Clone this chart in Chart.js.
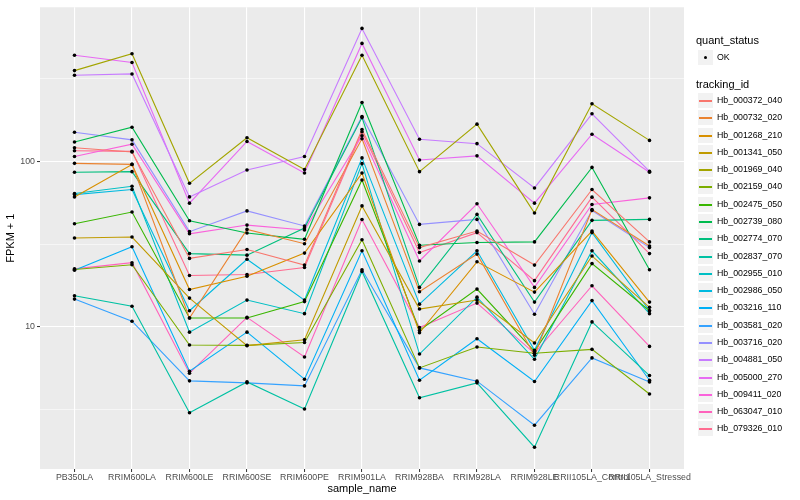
<!DOCTYPE html>
<html>
<head>
<meta charset="utf-8">
<script src="https://cdn.jsdelivr.net/npm/chart.js@4.4.1/dist/chart.umd.min.js"></script>
<style>
  html, body { margin: 0; padding: 0; background: #fff; }
  #wrap { position: relative; width: 800px; height: 500px; font-family: 'Liberation Sans', Arial, sans-serif; }
  #chart { position: absolute; left: 0; top: 0; }
  .lg-title { position: absolute; left: 696px; font-size: 11px; line-height: 13px; color: #000; white-space: nowrap; }
  .lg-key { position: absolute; left: 697px; width: 17px; height: 17px; background: #f2f2f2; box-sizing: border-box; border: 1px solid #fff; }
  .lg-line { position: absolute; left: 1px; width: 13px; top: 6.5px; height: 2px; }
  .lg-dot { position: absolute; left: 6px; top: 6px; width: 3px; height: 3px; border-radius: 50%; background: #000; }
  .lg-text { position: absolute; left: 717px; font-size: 8.8px; line-height: 17px; color: #000; white-space: nowrap; }
</style>
</head>
<body>
<div id="wrap">
  <canvas id="chart" width="800" height="500"></canvas>
  <div id="legend"></div>
</div>
<script>
// Samples on the x axis
const sampleNames = ["PB350LA", "RRIM600LA", "RRIM600LE", "RRIM600SE", "RRIM600PE", "RRIM901LA",
  "RRIM928BA", "RRIM928LA", "RRIM928LE", "RRII105LA_Control", "RRII105LA_Stressed"];

const trackingIds = ["Hb_000372_040", "Hb_000732_020", "Hb_001268_210", "Hb_001341_050", "Hb_001969_040",
  "Hb_002159_040", "Hb_002475_050", "Hb_002739_080", "Hb_002774_070", "Hb_002837_070",
  "Hb_002955_010", "Hb_002986_050", "Hb_003216_110", "Hb_003581_020", "Hb_003716_020",
  "Hb_004881_050", "Hb_005000_270", "Hb_009411_020", "Hb_063047_010", "Hb_079326_010"];

// ggplot default hue palette, 20 levels
const lineColors = ["#F8766D", "#EA8331", "#D89000", "#C09B00", "#A3A500", "#7CAE00", "#39B600", "#00BB4E",
  "#00BF7D", "#00C1A3", "#00BFC4", "#00BAE0", "#00B0F6", "#35A2FF", "#9590FF", "#C77CFF",
  "#E76BF3", "#FA62DB", "#FF62BC", "#FF6C91"];

// FPKM + 1, one value per sample
const hb000372_040 = [121, 114, 25.9, 29.3, 23.6, 156, 30.1, 37.9, 23.6, 67.6, 32.6];
const hb000732_020 = [97.3, 95.9, 11.3, 38.8, 31.8, 137, 16.3, 27.5, 6.72, 51.2, 30.8];
const hb001268_210 = [61.0, 95.9, 16.8, 20.2, 27.9, 85.0, 9.2, 24.7, 16.2, 37.9, 14.1];
const hb001341_050 = [34.4, 34.9, 14.9, 7.69, 8.35, 53.8, 12.8, 14.5, 7.97, 26.8, 13.1];
const hb001969_040 = [354, 448, 73.7, 139, 89.2, 438, 86.7, 168, 48.7, 223, 134];
const hb002159_040 = [22.2, 23.7, 7.75, 7.72, 8.04, 33.6, 5.64, 7.54, 6.91, 7.30, 3.92];
const hb002475_050 = [42.0, 49.4, 11.3, 11.3, 14.2, 77.2, 9.50, 16.9, 7.10, 24.1, 12.5];
const hb002739_080 = [131, 161, 43.8, 36.9, 33.8, 227, 31.1, 32.3, 32.6, 92.0, 22.1];
const hb002774_070 = [85.9, 86.7, 27.7, 27.1, 39.5, 184, 17.3, 47.8, 14.1, 44.0, 44.6];
const hb002837_070 = [15.4, 13.3, 3.02, 4.64, 3.18, 21.6, 3.72, 4.58, 1.87, 10.7, 5.07];
const hb002955_010 = [63.9, 70.7, 9.28, 14.5, 12.0, 96.9, 6.84, 15.1, 6.36, 28.8, 12.0];
const hb002986_050 = [63.0, 67.6, 12.5, 25.6, 14.5, 105, 13.7, 28.8, 7.20, 37.1, 12.5];
const hb003216_110 = [22.0, 30.5, 5.38, 9.28, 4.82, 28.8, 4.75, 8.47, 4.67, 14.4, 4.75];
const hb003581_020 = [14.7, 10.8, 4.71, 4.58, 4.39, 22.1, 5.64, 4.69, 2.54, 6.48, 4.64];
const hb003716_020 = [150, 135, 37.6, 50.2, 40.7, 187, 41.6, 44.6, 11.9, 50.5, 30.1];
const hb004881_050 = [332, 338, 61.0, 88.7, 107, 637, 136, 128, 69.1, 194, 87.1];
const hb005000_270 = [438, 396, 55.9, 132, 85.0, 517, 102, 108, 55.9, 146, 86.0];
const hb009411_020 = [107, 127, 36.5, 41.2, 38.5, 143, 25.0, 55.4, 17.3, 54.9, 60.2];
const hb063047_010 = [22.4, 24.4, 5.24, 11.4, 6.57, 44.5, 9.90, 13.9, 6.91, 17.7, 7.61];
const hb079326_010 = [116, 115, 20.4, 20.7, 22.8, 151, 28.1, 37.1, 19.0, 60.8, 27.7];

const seriesValues = [hb000372_040, hb000732_020, hb001268_210, hb001341_050, hb001969_040,
  hb002159_040, hb002475_050, hb002739_080, hb002774_070, hb002837_070,
  hb002955_010, hb002986_050, hb003216_110, hb003581_020, hb003716_020,
  hb004881_050, hb005000_270, hb009411_020, hb063047_010, hb079326_010];

// y axis: labelled breaks and the minor grid between them
const yMajorTicks = [10, 100];
const yMinorTicks = [3.162, 31.62, 316.2];

const isMajor = ctx => ctx.tick && yMajorTicks.includes(ctx.tick.value);

// grey panel behind the grid
const panelBg = {
  id: 'panelBg',
  beforeDraw(chart) {
    const { ctx, chartArea: a } = chart;
    ctx.save();
    ctx.fillStyle = '#ebebeb';
    ctx.fillRect(a.left, a.top, a.right - a.left, a.bottom - a.top);
    ctx.restore();
  }
};

Chart.defaults.font.family = "'Liberation Sans', Arial, sans-serif";

const datasets = seriesValues.map((vals, s) => ({
  type: 'line',
  label: trackingIds[s],
  data: vals.map((v, i) => ({ x: i, y: v })),
  borderColor: lineColors[s],
  borderWidth: 1.1,
  pointRadius: 0,
  fill: false,
  tension: 0,
  order: 1
}));

// points go on top of every line, as in the original
datasets.push({
  type: 'scatter',
  label: 'OK',
  data: seriesValues.flatMap(vals => vals.map((v, i) => ({ x: i, y: v }))),
  backgroundColor: '#000',
  borderWidth: 0,
  pointRadius: 1.8,
  order: 0
});

new Chart(document.getElementById('chart').getContext('2d'), {
  type: 'line',
  data: { datasets },
  plugins: [panelBg],
  options: {
    responsive: false,
    animation: false,
    layout: { padding: { left: 0, right: 116, top: 5, bottom: 0 } },
    plugins: { legend: { display: false }, tooltip: { enabled: false } },
    scales: {
      x: {
        type: 'linear', min: -0.6, max: 10.6,
        afterBuildTicks: axis => { axis.ticks = sampleNames.map((n, i) => ({ value: i })); },
        afterFit: axis => { axis.height = 31; },
        ticks: {
          autoSkip: false, maxRotation: 0, minRotation: 0, padding: 0,
          color: '#4d4d4d', font: { size: 8.8 },
          callback: v => sampleNames[v]
        },
        grid: { color: '#fff', lineWidth: 1.1, tickLength: 3, tickColor: '#333', tickWidth: 1 },
        border: { display: false },
        title: { display: true, text: 'sample_name', color: '#000', font: { size: 11 }, padding: { top: 0, bottom: 4 } }
      },
      y: {
        type: 'logarithmic', min: 1.38, max: 855,
        afterBuildTicks: axis => {
          axis.ticks = yMinorTicks.concat(yMajorTicks).sort((a, b) => a - b).map(v => ({ value: v }));
        },
        afterFit: axis => { axis.width = 40; },
        ticks: {
          padding: 2, color: '#4d4d4d', font: { size: 8.8 },
          callback: v => yMajorTicks.includes(v) ? String(v) : ''
        },
        grid: {
          color: '#fff',
          lineWidth: ctx => isMajor(ctx) ? 1.1 : 0.55,
          tickLength: 3,
          tickColor: ctx => isMajor(ctx) ? '#333' : 'rgba(0,0,0,0)',
          tickWidth: 1
        },
        border: { display: false },
        title: { display: true, text: 'FPKM + 1', color: '#000', font: { size: 11 }, padding: { top: 4, bottom: 0 } }
      }
    }
  }
});

// Legend, drawn as plain HTML on the right
const legend = document.getElementById('legend');
function add(cls, top, text) {
  const el = document.createElement('div');
  el.className = cls;
  el.style.top = top + 'px';
  if (text) el.textContent = text;
  legend.appendChild(el);
  return el;
}
add('lg-title', 34, 'quant_status');
const okKey = add('lg-key', 49);
okKey.innerHTML = '<div class="lg-dot"></div>';
add('lg-text', 49, 'OK');
add('lg-title', 78, 'tracking_id');
trackingIds.forEach((id, i) => {
  const top = Math.round(92.06 + i * 17.28);
  const key = add('lg-key', top);
  const line = document.createElement('div');
  line.className = 'lg-line';
  line.style.background = lineColors[i];
  key.appendChild(line);
  add('lg-text', top, id);
});
</script>
</body>
</html>
